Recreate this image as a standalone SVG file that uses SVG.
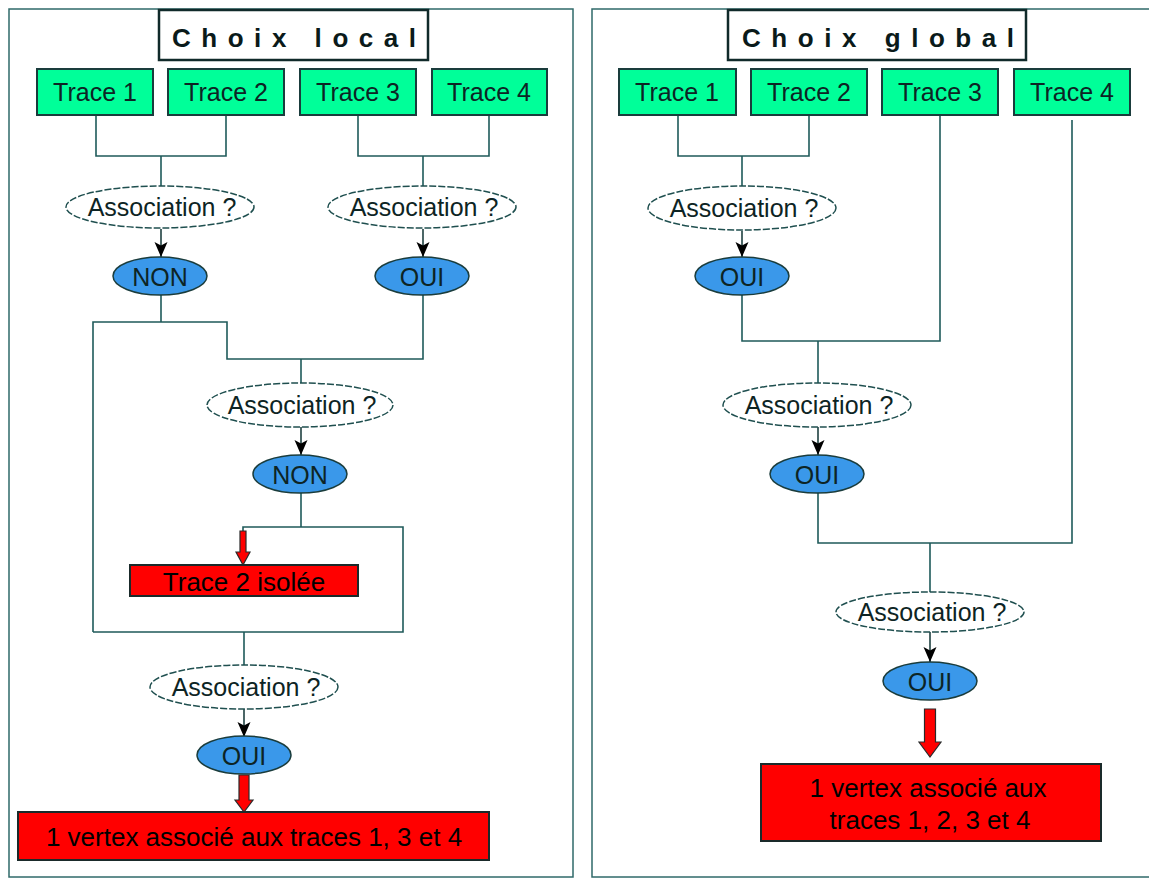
<svg xmlns="http://www.w3.org/2000/svg" width="1149" height="879" viewBox="0 0 1149 879">
<style>
.panel{fill:#fff;stroke:#2f6a6a;stroke-width:1.5}
.title{fill:#fff;stroke:#102a2a;stroke-width:2.5}
.ttxt{font-family:"Liberation Sans",Arial,sans-serif;font-weight:bold;font-size:26px;fill:#0a1a1a}
.trace{fill:#00ff99;stroke:#1a3c3c;stroke-width:2}
.txt{font-family:"Liberation Sans",Arial,sans-serif;font-size:25px;fill:#0d2424;text-anchor:middle}
.assoc{fill:#fff;stroke:#1f4f4f;stroke-width:1.5;stroke-dasharray:7 2}
.yn{fill:#3a98ea;stroke:#1a3c3c;stroke-width:1.5}
.res{fill:#ff0000;stroke:#1a2a2a;stroke-width:2}
.rtxt{font-family:"Liberation Sans",Arial,sans-serif;font-size:26px;fill:#000;text-anchor:middle}
.ln{fill:none;stroke:#1f5a5a;stroke-width:1.6}
.arr{fill:none;stroke:#1f4040;stroke-width:1.6;marker-end:url(#ah)}
.red{fill:#ff0000;stroke:#2a2a2a;stroke-width:1.2}
</style>
<defs>
<marker id="ah" markerUnits="userSpaceOnUse" markerWidth="16" markerHeight="16" viewBox="0 0 16 16" refX="15" refY="8" orient="auto">
<path d="M0,1.5 L15,8 L0,14.5 L3.5,8 Z" fill="#000"/>
</marker>
</defs>

<g id="panel-local"><rect class="panel" x="9" y="9" width="564" height="868"/></g>
<g id="panel-global"><rect class="panel" x="592" y="9" width="600" height="868"/></g>

<g id="connectors">
<!-- left panel -->
<path class="ln" d="M96,115 V156 H226 V115 M161,156 V186"/>
<path class="ln" d="M358,115 V156 H489 V115 M423,156 V186"/>
<path class="arr" d="M161,229 V257"/>
<path class="arr" d="M423,229 V257"/>
<path class="ln" d="M161,295 V322 M93,632 V322 H227 V359 H423 V295 M301,359 V383"/>
<path class="arr" d="M301,427 V455"/>
<path class="ln" d="M301,493 V527 M243,531 V527 H403 V632 H93 M244,632 V665"/>
<path class="arr" d="M244,709 V737"/>
<path class="red" d="M240,531 H246 V552 H250 L243,565 L236,552 H240 Z"/>
<path class="red" d="M239,775 H249 V800 H253 L244,812 L235,800 H239 Z"/>
<!-- right panel -->
<path class="ln" d="M678,115 V156 H809 V115 M742,156 V186"/>
<path class="arr" d="M742,231 V257"/>
<path class="ln" d="M742,295 V341 H940 V115 M818,341 V383"/>
<path class="arr" d="M818,427 V455"/>
<path class="ln" d="M818,493 V543 H1072 V120 M930,543 V592"/>
<path class="arr" d="M930,632 V662"/>
<path class="red" d="M924.5,709 H935.5 V742 H941 L930,757 L919,742 H924.5 Z"/>
</g>

<g id="title-local"><rect class="title" x="159" y="10" width="269" height="50"/><text class="ttxt" x="172" y="47" textLength="244" lengthAdjust="spacing">Choix local</text></g>
<g id="title-global"><rect class="title" x="728" y="10" width="298" height="50"/><text class="ttxt" x="742" y="47" textLength="272" lengthAdjust="spacing">Choix global</text></g>

<g id="l-trace1"><rect class="trace" x="37" y="69" width="116" height="46"/><text class="txt" x="95" y="101">Trace 1</text></g>
<g id="l-trace2"><rect class="trace" x="168" y="69" width="116" height="46"/><text class="txt" x="226" y="101">Trace 2</text></g>
<g id="l-trace3"><rect class="trace" x="300" y="69" width="116" height="46"/><text class="txt" x="358" y="101">Trace 3</text></g>
<g id="l-trace4"><rect class="trace" x="432" y="69" width="115" height="46"/><text class="txt" x="489" y="101">Trace 4</text></g>

<g id="l-assoc1"><ellipse class="assoc" cx="160" cy="207" rx="94" ry="21"/><text class="txt" x="162" y="216">Association ?</text></g>
<g id="l-assoc2"><ellipse class="assoc" cx="422" cy="207" rx="94" ry="21"/><text class="txt" x="424" y="216">Association ?</text></g>
<g id="l-non1"><ellipse class="yn" cx="160" cy="276" rx="47" ry="19"/><text class="txt" x="160" y="286">NON</text></g>
<g id="l-oui1"><ellipse class="yn" cx="422" cy="276" rx="47" ry="19"/><text class="txt" x="422" y="286">OUI</text></g>
<g id="l-assoc3"><ellipse class="assoc" cx="300" cy="405" rx="93" ry="22"/><text class="txt" x="302" y="414">Association ?</text></g>
<g id="l-non2"><ellipse class="yn" cx="300" cy="474" rx="47" ry="19"/><text class="txt" x="300" y="484">NON</text></g>
<g id="l-isolee"><rect class="res" x="130" y="565" width="228" height="31"/><text class="rtxt" x="244" y="591">Trace 2 isolée</text></g>
<g id="l-assoc4"><ellipse class="assoc" cx="244" cy="687" rx="94" ry="22"/><text class="txt" x="246" y="696">Association ?</text></g>
<g id="l-oui2"><ellipse class="yn" cx="244" cy="755" rx="47" ry="19"/><text class="txt" x="244" y="765">OUI</text></g>
<g id="l-result"><rect class="res" x="18" y="812" width="471" height="48"/><text class="rtxt" x="254" y="846">1 vertex associé aux traces 1, 3 et 4</text></g>

<g id="r-trace1"><rect class="trace" x="619" y="69" width="117" height="46"/><text class="txt" x="677" y="101">Trace 1</text></g>
<g id="r-trace2"><rect class="trace" x="751" y="69" width="116" height="46"/><text class="txt" x="809" y="101">Trace 2</text></g>
<g id="r-trace3"><rect class="trace" x="882" y="69" width="116" height="46"/><text class="txt" x="940" y="101">Trace 3</text></g>
<g id="r-trace4"><rect class="trace" x="1014" y="69" width="116" height="46"/><text class="txt" x="1072" y="101">Trace 4</text></g>

<g id="r-assoc1"><ellipse class="assoc" cx="742" cy="208" rx="94" ry="22"/><text class="txt" x="744" y="217">Association ?</text></g>
<g id="r-oui1"><ellipse class="yn" cx="742" cy="276" rx="47" ry="19"/><text class="txt" x="742" y="286">OUI</text></g>
<g id="r-assoc2"><ellipse class="assoc" cx="817" cy="405" rx="94" ry="22"/><text class="txt" x="819" y="414">Association ?</text></g>
<g id="r-oui2"><ellipse class="yn" cx="817" cy="474" rx="47" ry="19"/><text class="txt" x="817" y="484">OUI</text></g>
<g id="r-assoc3"><ellipse class="assoc" cx="930" cy="612" rx="94" ry="20"/><text class="txt" x="932" y="621">Association ?</text></g>
<g id="r-oui3"><ellipse class="yn" cx="930" cy="681" rx="47" ry="19"/><text class="txt" x="930" y="691">OUI</text></g>
<g id="r-result"><rect class="res" x="761" y="764" width="340" height="77"/><text class="rtxt" x="928" y="797">1 vertex associé aux</text><text class="rtxt" x="930" y="829">traces 1, 2, 3 et 4</text></g>
</svg>
